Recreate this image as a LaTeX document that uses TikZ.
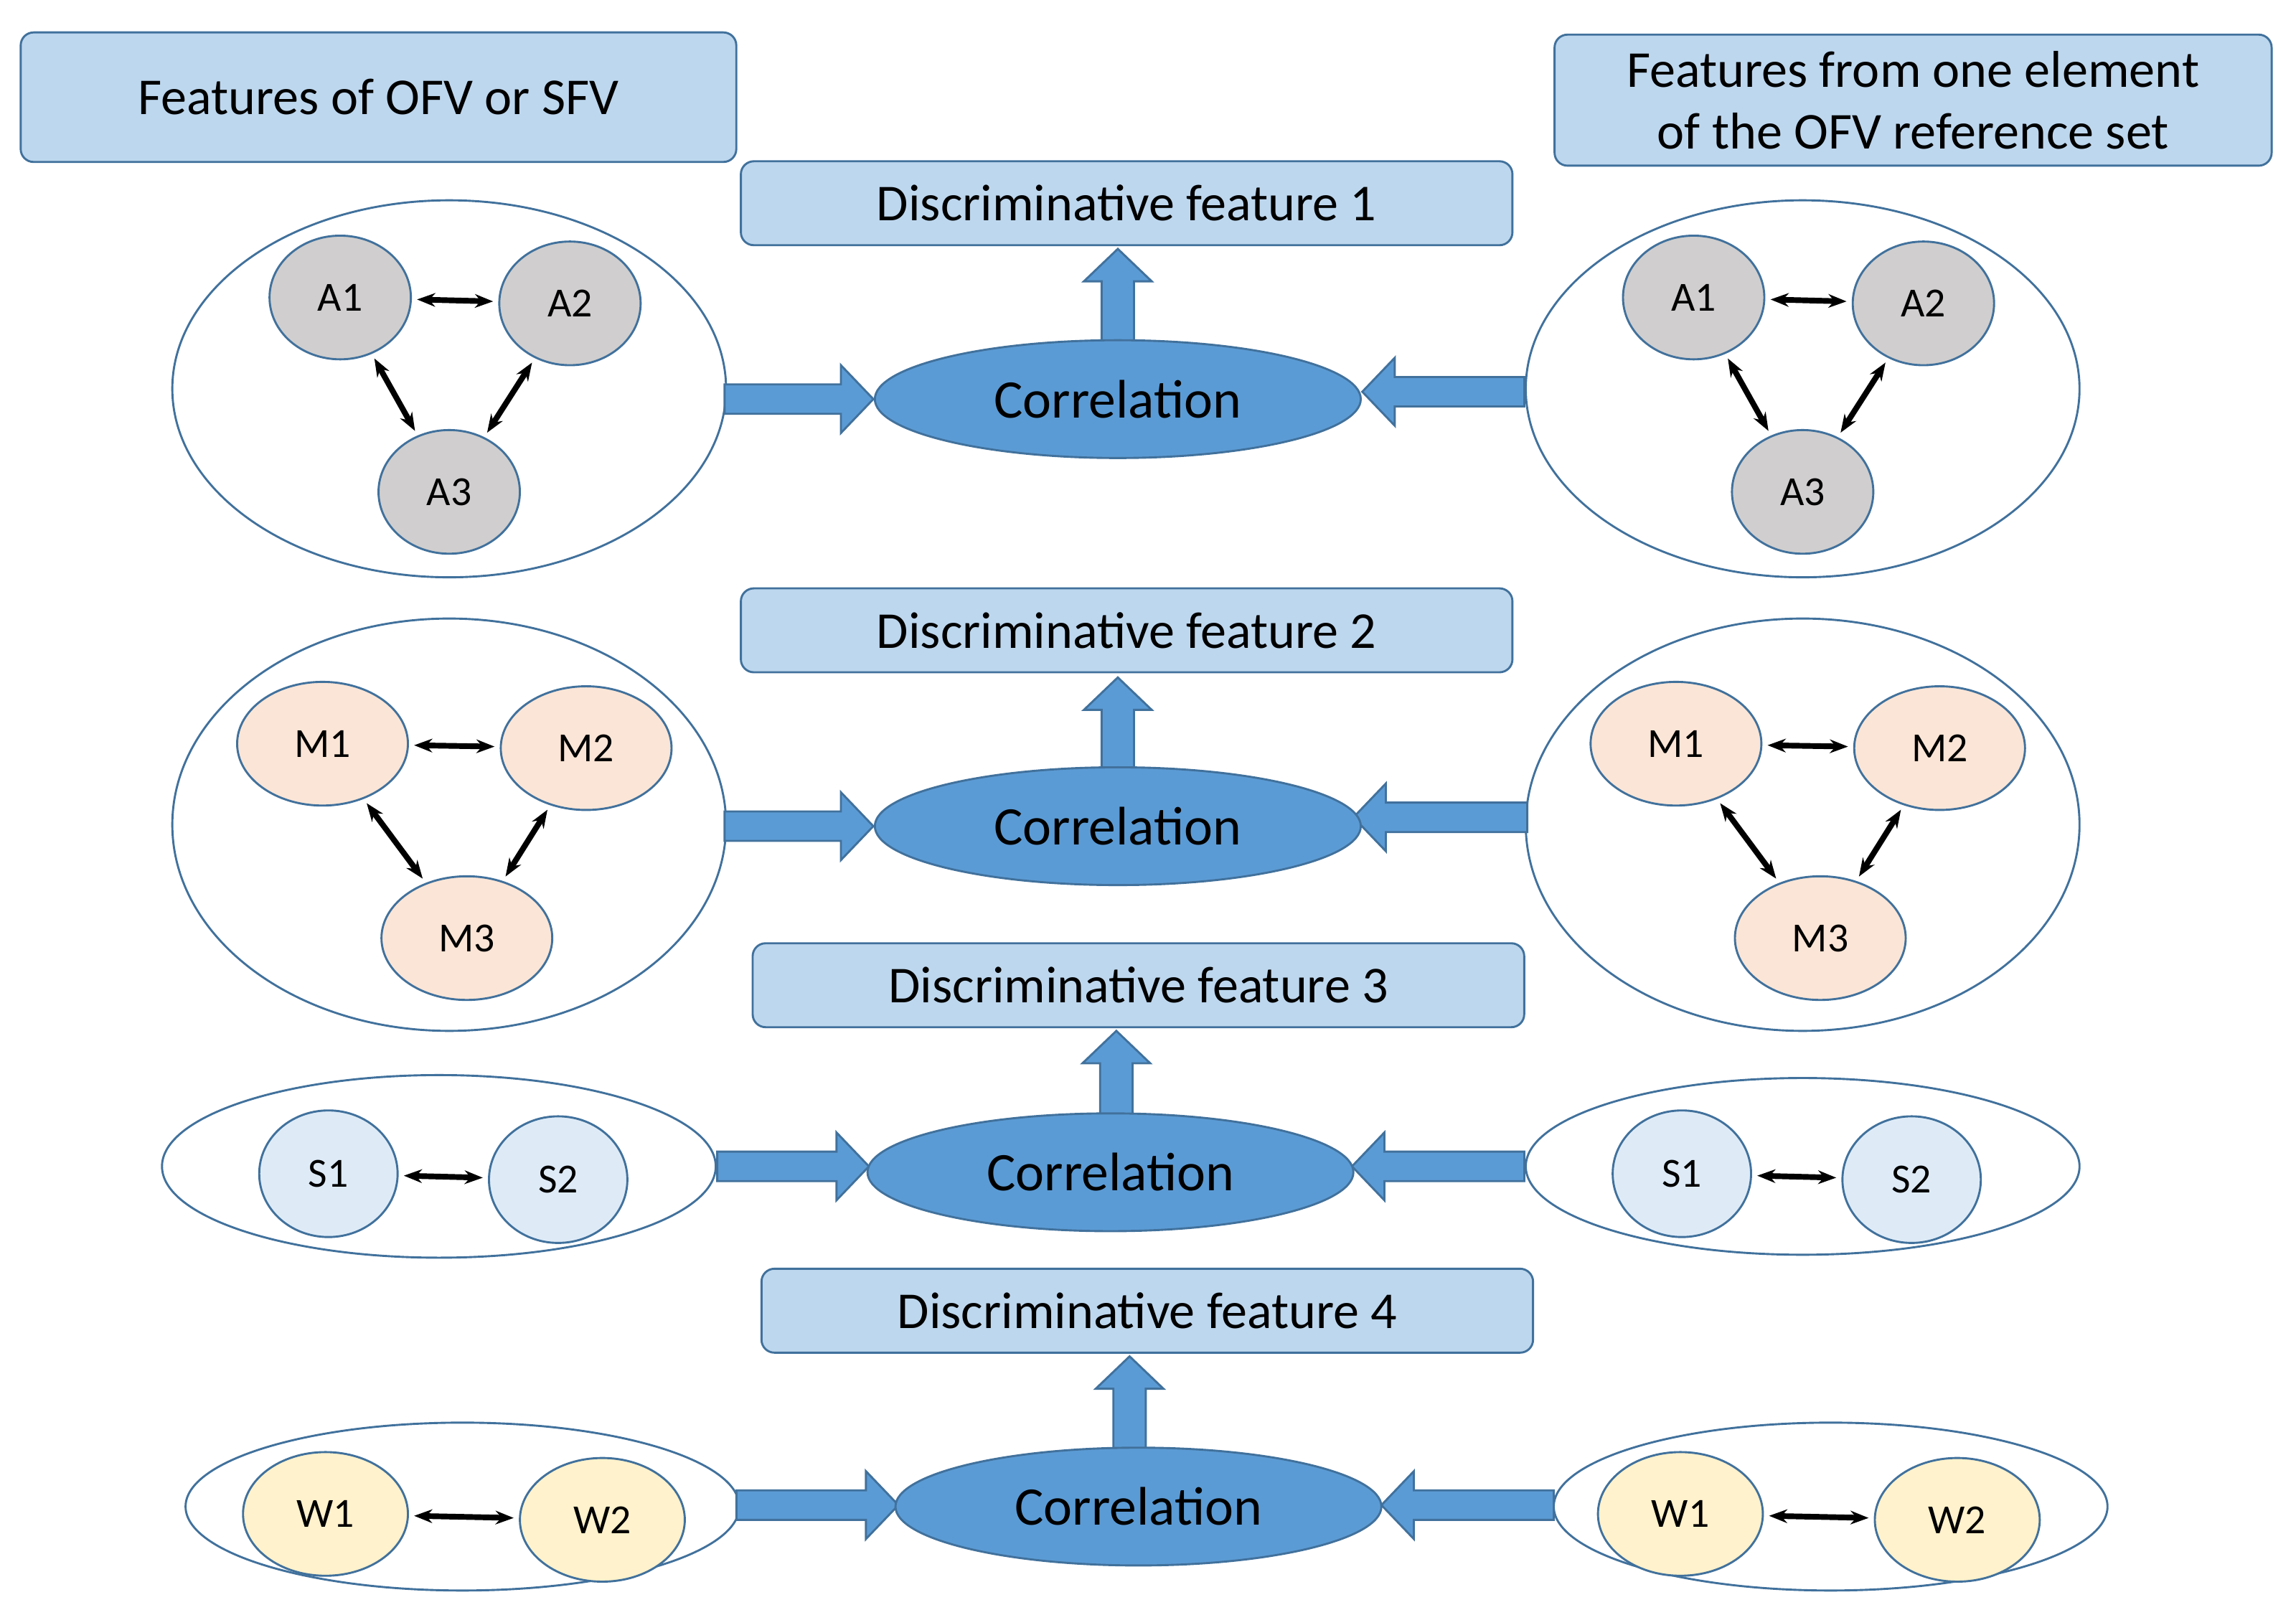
\documentclass[tikz,border=0pt]{standalone}
\usepackage{fontspec}
\setmainfont{Carlito}
\usetikzlibrary{arrows.meta,shapes.geometric}
\definecolor{boxf}{HTML}{BDD7EE}
\definecolor{edge}{HTML}{41719C}
\definecolor{corr}{HTML}{5B9BD5}
\definecolor{gA}{HTML}{D0CECE}
\definecolor{gM}{HTML}{FBE5D6}
\definecolor{gS}{HTML}{DEEBF7}
\definecolor{gW}{HTML}{FFF2CC}
\newcommand\myR[3]{\fill[corr] (#1,#3-10) -- (#2-22,#3-10) -- (#2-22,#3-23) -- (#2,#3) -- (#2-22,#3+23) -- (#2-22,#3+10) -- (#1,#3+10) -- cycle;
 \draw[edge,thick] (#1,#3-10) -- (#2-22,#3-10) -- (#2-22,#3-23) -- (#2,#3) -- (#2-22,#3+23) -- (#2-22,#3+10) -- (#1,#3+10) -- cycle;}
\newcommand\myL[3]{\fill[corr] (#1,#3-10) -- (#2+22,#3-10) -- (#2+22,#3-23) -- (#2,#3) -- (#2+22,#3+23) -- (#2+22,#3+10) -- (#1,#3+10) -- cycle;
 \draw[edge,thick] (#1,#3-10) -- (#2+22,#3-10) -- (#2+22,#3-23) -- (#2,#3) -- (#2+22,#3+23) -- (#2+22,#3+10) -- (#1,#3+10) -- cycle;}
\newcommand\myU[3]{\fill[corr] (#1-11,#2) -- (#1-11,#3+22) -- (#1-23,#3+22) -- (#1,#3) -- (#1+23,#3+22) -- (#1+11,#3+22) -- (#1+11,#2) -- cycle;
 \draw[edge,thick] (#1-11,#2) -- (#1-11,#3+22) -- (#1-23,#3+22) -- (#1,#3) -- (#1+23,#3+22) -- (#1+11,#3+22) -- (#1+11,#2) -- cycle;}
\begin{document}
\begin{tikzpicture}[x=0.02cm,y=-0.02cm,
 box/.style={draw=edge,thick,fill=boxf,rounded corners=5pt,font=\fontsize{20}{24}\selectfont,align=center},
 big/.style={draw=edge,thick},
 cor/.style={draw=edge,thick,fill=corr,ellipse,font=\fontsize{21}{24}\selectfont},
 sm/.style={draw=edge,thick,ellipse,inner sep=0pt,font=\fontsize{16}{19}\selectfont},
 ba/.style={{Stealth[length=7pt]}-{Stealth[length=7pt]},line width=2.2pt,black,shorten <=2pt,shorten >=2pt}]
\useasboundingbox (0,0) rectangle (1559,1093);
\node[box,minimum width=9.72cm,minimum height=1.76cm] (t1) at (257,66) {Features of OFV or SFV};
\node[box,minimum width=9.74cm,minimum height=1.78cm] (t2) at (1299,68) {Features from one element\\of the OFV reference set};
\node[box,minimum width=10.48cm,minimum height=1.14cm] (d1) at (765,138) {Discriminative feature 1};
\node[box,minimum width=10.48cm,minimum height=1.14cm] (d2) at (765,428) {Discriminative feature 2};
\node[box,minimum width=10.48cm,minimum height=1.14cm] (d3) at (773,669) {Discriminative feature 3};
\node[box,minimum width=10.48cm,minimum height=1.14cm] (d4) at (779,890) {Discriminative feature 4};
% big ellipses
\draw[big] (305,264) ellipse [x radius=188,y radius=128];
\draw[big] (1224,264) ellipse [x radius=188,y radius=128];
\draw[big] (305,560) ellipse [x radius=188,y radius=140];
\draw[big] (1224,560) ellipse [x radius=188,y radius=140];
\draw[big] (298,792) ellipse [x radius=188,y radius=62];
\draw[big] (1224,792) ellipse [x radius=188,y radius=60];
\draw[big] (314,1023) ellipse [x radius=188,y radius=57];
\draw[big] (1243,1023) ellipse [x radius=188,y radius=57];
% block arrows
\myR{492}{593}{271} \myL{1035}{925}{266}
\myR{492}{593}{561} \myL{1037}{919}{555}
\myR{487}{590}{792} \myL{1035}{918}{792}
\myR{500}{610}{1022} \myL{1055}{938}{1022}
\myU{759}{233}{169} \myU{759}{523}{460} \myU{758}{758}{700} \myU{767}{985}{921}
% correlation
\foreach \n/\x/\y in {c1/759/271,c2/759/561,c3/754/796,c4/773/1023}
 \node[cor,minimum width=6.6cm,minimum height=1.6cm] (\n) at (\x,\y) {Correlation};
% small nodes
\foreach \p/\o in {l/0,r/919}{
 \node[sm,fill=gA,minimum width=1.92cm,minimum height=1.68cm] (A1\p) at (231+\o,202) {A1};
 \node[sm,fill=gA,minimum width=1.92cm,minimum height=1.68cm] (A2\p) at (387+\o,206) {A2};
 \node[sm,fill=gA,minimum width=1.92cm,minimum height=1.68cm] (A3\p) at (305+\o,334) {A3};
 \draw[ba] (A1\p) -- (A2\p); \draw[ba] (A1\p) -- (A3\p); \draw[ba] (A2\p) -- (A3\p);
 \node[sm,fill=gM,minimum width=2.32cm,minimum height=1.68cm] (M1\p) at (219+\o,505) {M1};
 \node[sm,fill=gM,minimum width=2.32cm,minimum height=1.68cm] (M2\p) at (398+\o,508) {M2};
 \node[sm,fill=gM,minimum width=2.32cm,minimum height=1.68cm] (M3\p) at (317+\o,637) {M3};
 \draw[ba] (M1\p) -- (M2\p); \draw[ba] (M1\p) -- (M3\p); \draw[ba] (M2\p) -- (M3\p);
 \node[sm,fill=gS,minimum width=1.88cm,minimum height=1.72cm] (S1\p) at (223+\o,797) {S1};
 \node[sm,fill=gS,minimum width=1.88cm,minimum height=1.72cm] (S2\p) at (379+\o,801) {S2};
 \draw[ba] (S1\p) -- (S2\p);
}
\foreach \p/\o in {l/0,r/920}{
 \node[sm,fill=gW,minimum width=2.24cm,minimum height=1.68cm] (W1\p) at (221+\o,1028) {W1};
 \node[sm,fill=gW,minimum width=2.24cm,minimum height=1.68cm] (W2\p) at (409+\o,1032) {W2};
 \draw[ba] (W1\p) -- (W2\p);
}
\end{tikzpicture}
\end{document}
